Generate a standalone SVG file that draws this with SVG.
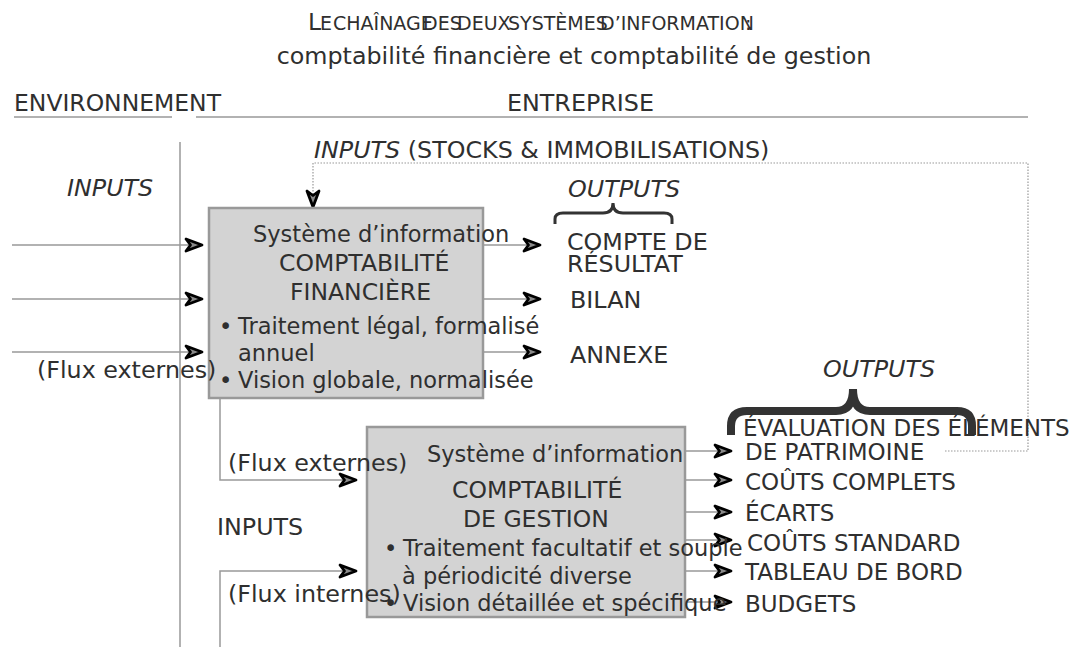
<svg xmlns="http://www.w3.org/2000/svg" width="1083" height="647" viewBox="0 0 1083 647">
<style>
text{font-family:"DejaVu Sans","Liberation Sans",sans-serif;fill:#2f2f2f}
.lbl{font-size:23.8px}
.out{font-size:23px}
.bx{font-size:22.5px}
.ttl{font-size:23.5px}
.it{font-style:italic}
.sc{font-size:19px}
.node{fill:#d3d3d3;stroke:#999;stroke-width:2.5}
.ln{fill:none;stroke:#999;stroke-width:1.5}
.dot{fill:none;stroke:#999;stroke-width:1.2;stroke-dasharray:1.5 1.5}
.brace{fill:none;stroke:#333}
</style>
<defs>
<marker id="ah" markerUnits="userSpaceOnUse" markerWidth="24" markerHeight="18" refX="16" refY="6" orient="auto" viewBox="-3 -3 22 18">
<path d="M0,0 L16,6 L0,12 L4.5,6 Z" fill="#8a8a8a" stroke="#000" stroke-width="2.8" stroke-linejoin="round"/>
</marker>
</defs>

<g id="title">
<text y="30" class="sc"><tspan x="308" font-size="23.5">L</tspan><tspan x="320">E</tspan><tspan x="333">CHAÎNAGE</tspan><tspan x="423">DES</tspan><tspan x="457">DEUX</tspan><tspan x="508">SYSTÈMES</tspan><tspan x="600">D’INFORMATION</tspan><tspan x="745">:</tspan></text>
<text x="574" y="64" class="lbl" text-anchor="middle">comptabilité financière et comptabilité de gestion</text>
</g>

<g id="zones">
<text x="14" y="111" class="lbl" textLength="207" lengthAdjust="spacingAndGlyphs">ENVIRONNEMENT</text>
<line x1="14" y1="117" x2="172" y2="117" class="ln"/>
<text x="507" y="111" class="lbl">ENTREPRISE</text>
<line x1="196" y1="117" x2="1028" y2="117" class="ln"/>
<line x1="180" y1="142" x2="180" y2="647" class="ln"/>
</g>

<g id="connectors">
<line x1="12" y1="245" x2="202" y2="245" class="ln" marker-end="url(#ah)"/>
<line x1="12" y1="299" x2="202" y2="299" class="ln" marker-end="url(#ah)"/>
<line x1="12" y1="352" x2="202" y2="352" class="ln" marker-end="url(#ah)"/>
<line x1="483" y1="245" x2="540" y2="245" class="ln" marker-end="url(#ah)"/>
<line x1="483" y1="299" x2="540" y2="299" class="ln" marker-end="url(#ah)"/>
<line x1="483" y1="352" x2="540" y2="352" class="ln" marker-end="url(#ah)"/>
<polyline points="220,398 220,480 356,480" class="ln" marker-end="url(#ah)"/>
<polyline points="220,647 220,571 356,571" class="ln" marker-end="url(#ah)"/>
<line x1="685" y1="451" x2="731" y2="451" class="ln" marker-end="url(#ah)"/>
<line x1="685" y1="480" x2="731" y2="480" class="ln" marker-end="url(#ah)"/>
<line x1="685" y1="512" x2="731" y2="512" class="ln" marker-end="url(#ah)"/>
<line x1="685" y1="540" x2="731" y2="540" class="ln" marker-end="url(#ah)"/>
<line x1="685" y1="571" x2="731" y2="571" class="ln" marker-end="url(#ah)"/>
<line x1="685" y1="602" x2="731" y2="602" class="ln" marker-end="url(#ah)"/>
<polyline points="945,451 1028,451 1028,163 313,163 313,207" class="dot" marker-end="url(#ah)"/>
</g>

<g id="cf">
<rect x="209" y="208" width="274" height="190" class="node"/>
<text x="253" y="242" class="bx">Système d’information</text>
<text x="279" y="271" class="ttl">COMPTABILITÉ</text>
<text x="290" y="300" class="ttl">FINANCIÈRE</text>
<text y="334" class="bx"><tspan x="219">•</tspan><tspan x="238">Traitement légal, formalisé</tspan></text>
<text x="238" y="361" class="bx">annuel</text>
<text y="388" class="bx"><tspan x="219">•</tspan><tspan x="238">Vision globale, normalisée</tspan></text>
</g>

<g id="cg">
<rect x="367" y="427" width="318" height="190" class="node"/>
<text x="427" y="462" class="bx">Système d’information</text>
<text x="452" y="498" class="ttl">COMPTABILITÉ</text>
<text x="463" y="527" class="ttl">DE GESTION</text>
<text y="556" class="bx"><tspan x="384">•</tspan><tspan x="403">Traitement facultatif et souple</tspan></text>
<text x="402" y="584" class="bx">à périodicité diverse</text>
<text y="611" class="bx"><tspan x="384">•</tspan><tspan x="403">Vision détaillée et spécifique</tspan></text>
</g>

<g id="labels">
<text y="158" class="lbl"><tspan x="314" class="it">INPUTS</tspan> (STOCKS &amp; IMMOBILISATIONS)</text>
<text x="67" y="196" class="lbl it">INPUTS</text>
<text x="37" y="378" class="lbl">(Flux externes)</text>
<text x="228" y="471" class="lbl">(Flux externes)</text>
<text x="217" y="535" class="lbl">INPUTS</text>
<text x="228" y="602" class="lbl">(Flux internes)</text>
</g>

<g id="outputs-cf">
<text x="568" y="197" class="lbl it">OUTPUTS</text>
<path class="brace" stroke-width="3" d="M555,224 L555,219 Q555,213 563,213 L603,213 Q613,213 613,203 Q613,213 623,213 L664,213 Q672,213 672,219 L672,224"/>
<text x="567" y="250" class="lbl">COMPTE DE</text>
<text x="567" y="272" class="lbl">RÉSULTAT</text>
<text x="570" y="308" class="lbl">BILAN</text>
<text x="570" y="363" class="lbl">ANNEXE</text>
</g>

<g id="outputs-cg">
<text x="823" y="377" class="lbl it">OUTPUTS</text>
<path class="brace" stroke-width="8" d="M731,435 L731,426 Q731,411 747,411 L836,411 Q853,411 853,389 Q853,411 870,411 L957,411 Q972,411 972,426 L972,435"/>
<text x="743" y="436" class="out">ÉVALUATION DES ÉLÉMENTS</text>
<text x="745" y="460" class="out">DE PATRIMOINE</text>
<text x="745" y="490" class="out">COÛTS COMPLETS</text>
<text x="745" y="521" class="out">ÉCARTS</text>
<text x="747" y="551" class="out">COÛTS STANDARD</text>
<text x="745" y="580" class="out">TABLEAU DE BORD</text>
<text x="745" y="612" class="out">BUDGETS</text>
</g>
</svg>
